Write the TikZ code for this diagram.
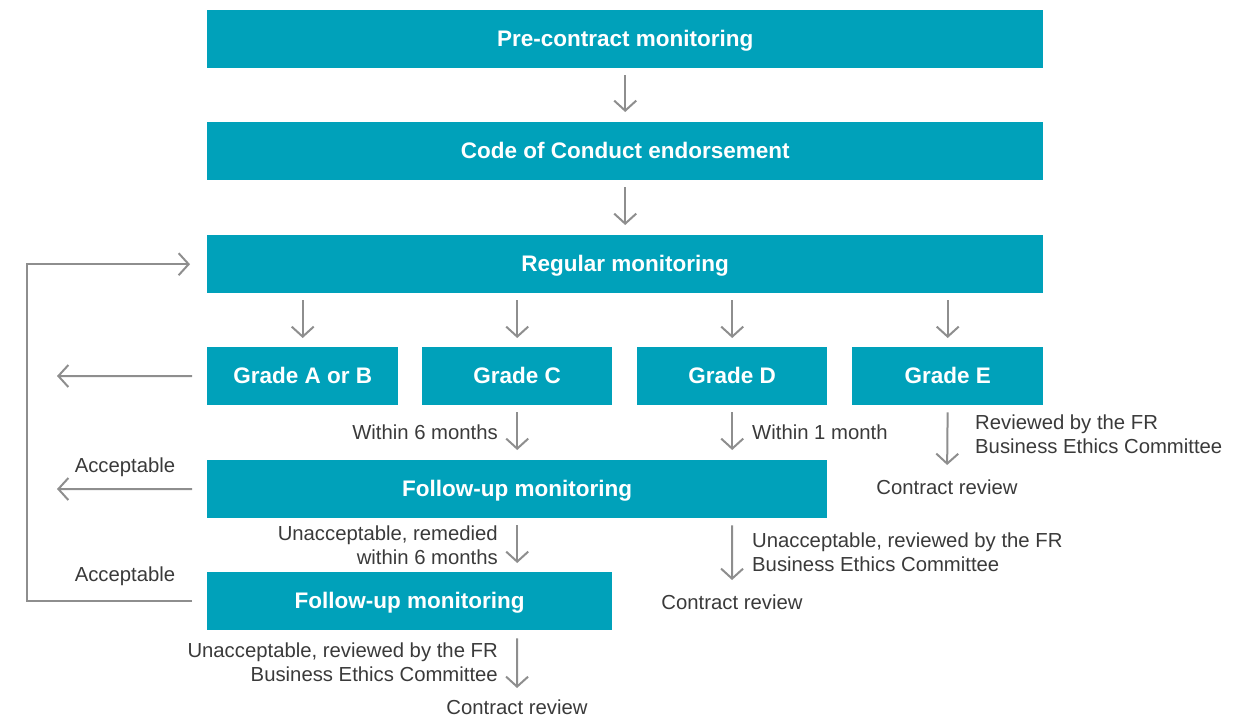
\documentclass[tikz,border=0pt]{standalone}
\usepackage{fontspec}
\setmainfont{Liberation Sans}
\usetikzlibrary{arrows.meta}
\definecolor{teal}{HTML}{00A1BA}
\definecolor{arrowgray}{HTML}{8E8E8E}
\definecolor{txtgray}{HTML}{3A3A3A}
\begin{document}
\begin{tikzpicture}[x=1pt,y=-1pt,
  box/.style={fill=teal,draw=none,text=white,font=\fontsize{22.5}{26}\selectfont\bfseries,
    minimum height=58pt,inner sep=0pt,text height=15pt,text depth=0pt,anchor=north west},
  lbl/.style={text=txtgray,font=\fontsize{20.3}{24}\selectfont,inner sep=0pt,align=left},
  rlbl/.style={lbl,align=right,anchor=east},
  flow/.style={draw=arrowgray,line width=2pt,-{Straight Barb[length=10pt,width=22pt,line width=2pt]}}
]
\useasboundingbox (0,0) rectangle (1259,720);

% main boxes
\node[box,minimum width=836pt] (pre) at (207,10) {Pre-contract monitoring};
\node[box,minimum width=836pt] (coc) at (207,122) {Code of Conduct endorsement};
\node[box,minimum width=836pt] (reg) at (207,235) {Regular monitoring};

% grade boxes
\node[box,minimum width=191pt] (gab) at (207,347) {Grade A or B};
\node[box,minimum width=190pt] (gc) at (422,347) {Grade C};
\node[box,minimum width=190pt] (gd) at (637,347) {Grade D};
\node[box,minimum width=191pt] (ge) at (852,347) {Grade E};

% follow-up boxes
\node[box,minimum width=620pt] (fu1) at (207,460) {Follow-up monitoring};
\node[box,minimum width=405pt] (fu2) at (207,572) {Follow-up monitoring};

% contract review outcomes
\node[lbl,anchor=north] (cr1) at (947,480) {Contract review};
\node[lbl,anchor=north] (cr2) at (732,595) {Contract review};
\node[lbl,anchor=north] (cr3) at (517,700) {Contract review};

% loose ends on the left
\coordinate (exab) at (57,376);
\coordinate (exfu) at (57,489);
\coordinate (loopx) at (27,0);

% labels
\node[rlbl] (l6m) at (498,432) {Within 6 months};
\node[lbl,anchor=west] (l1m) at (752,432) {Within 1 month};
\node[lbl,anchor=west] (lrev) at (975,434) {Reviewed by the FR\\Business Ethics Committee};
\node[lbl] (acc1) at (125,467) {Acceptable};
\node[lbl] (acc2) at (125,576) {Acceptable};
\node[rlbl] (lrem) at (498,545) {Unacceptable, remedied\\within 6 months};
\node[lbl,anchor=west] (lrev2) at (752,552) {Unacceptable, reviewed by the FR\\Business Ethics Committee};
\node[rlbl] (lrev3) at (498,662) {Unacceptable, reviewed by the FR\\Business Ethics Committee};

% vertical flow between main boxes
\draw[flow,shorten <=7pt,shorten >=10pt] (pre.south) -- (coc.north);
\draw[flow,shorten <=7pt,shorten >=10pt] (coc.south) -- (reg.north);

% regular monitoring to grades
\foreach \g in {gab,gc,gd,ge}
  \draw[flow,shorten <=7pt,shorten >=9pt] (reg.south -| \g.north) -- (\g.north);

% grades onward
\draw[flow,shorten <=7pt,shorten >=10pt] (gc.south) -- (gc.south |- fu1.north);
\draw[flow,shorten <=7pt,shorten >=10pt] (gd.south) -- (gd.south |- fu1.north);
\draw[flow,shorten <=7pt,shorten >=15pt] (ge.south) -- (cr1.north);

% follow-up 1 onward
\draw[flow,shorten <=7pt,shorten >=9pt] (fu1.south -| gc.south) -- (fu2.north -| gc.south);
\draw[flow,shorten <=7pt,shorten >=15pt] (fu1.south -| gd.south) -- (cr2.north);

% follow-up 2 onward
\draw[flow,shorten <=8pt,shorten >=12pt] (fu2.south -| gc.south) -- (cr3.north);

% left exits
\draw[flow,shorten <=15pt] (gab.west) -- (exab);
\draw[flow,shorten <=15pt] (fu1.west) -- (exfu);

% loop back to regular monitoring
\draw[flow,shorten <=15pt,shorten >=17pt] (fu2.west) -| (loopx |- reg.west) -- (reg.west);
\end{tikzpicture}
\end{document}
